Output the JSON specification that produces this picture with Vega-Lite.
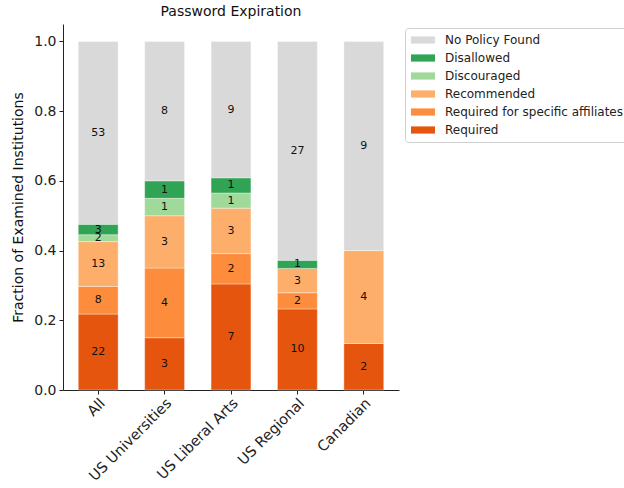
{
  "$schema": "https://vega.github.io/schema/vega-lite/v6.json",
  "autosize": "none",
  "width": 336,
  "height": 366,
  "padding": {"left": 63, "top": 24, "right": 225, "bottom": 98},
  "background": "white",
  "config": {
    "font": "DejaVu Sans",
    "view": {"stroke": null},
    "axis": {"labelFont": "DejaVu Sans", "titleFont": "DejaVu Sans", "labelColor": "#222", "titleColor": "#111", "domainColor": "#222", "tickColor": "#222", "grid": false}
  },
  "title": {"text": "Password Expiration", "fontSize": 14, "fontWeight": "normal", "font": "DejaVu Sans", "offset": 5, "color": "#111"},
  "data": {
    "values": [
      {"group": "All", "status": "Required", "level": 1, "count": 22},
      {"group": "All", "status": "Required for specific affiliates", "level": 2, "count": 8},
      {"group": "All", "status": "Recommended", "level": 3, "count": 13},
      {"group": "All", "status": "Discouraged", "level": 4, "count": 2},
      {"group": "All", "status": "Disallowed", "level": 5, "count": 3},
      {"group": "All", "status": "No Policy Found", "level": 6, "count": 53},
      {"group": "US Universities", "status": "Required", "level": 1, "count": 3},
      {"group": "US Universities", "status": "Required for specific affiliates", "level": 2, "count": 4},
      {"group": "US Universities", "status": "Recommended", "level": 3, "count": 3},
      {"group": "US Universities", "status": "Discouraged", "level": 4, "count": 1},
      {"group": "US Universities", "status": "Disallowed", "level": 5, "count": 1},
      {"group": "US Universities", "status": "No Policy Found", "level": 6, "count": 8},
      {"group": "US Liberal Arts", "status": "Required", "level": 1, "count": 7},
      {"group": "US Liberal Arts", "status": "Required for specific affiliates", "level": 2, "count": 2},
      {"group": "US Liberal Arts", "status": "Recommended", "level": 3, "count": 3},
      {"group": "US Liberal Arts", "status": "Discouraged", "level": 4, "count": 1},
      {"group": "US Liberal Arts", "status": "Disallowed", "level": 5, "count": 1},
      {"group": "US Liberal Arts", "status": "No Policy Found", "level": 6, "count": 9},
      {"group": "US Regional", "status": "Required", "level": 1, "count": 10},
      {"group": "US Regional", "status": "Required for specific affiliates", "level": 2, "count": 2},
      {"group": "US Regional", "status": "Recommended", "level": 3, "count": 3},
      {"group": "US Regional", "status": "Disallowed", "level": 5, "count": 1},
      {"group": "US Regional", "status": "No Policy Found", "level": 6, "count": 27},
      {"group": "Canadian", "status": "Required", "level": 1, "count": 2},
      {"group": "Canadian", "status": "Recommended", "level": 3, "count": 4},
      {"group": "Canadian", "status": "No Policy Found", "level": 6, "count": 9}
    ]
  },
  "transform": [
    {"stack": "count", "groupby": ["group"], "offset": "normalize", "sort": [{"field": "level", "order": "ascending"}], "as": ["y0", "y1"]},
    {"calculate": "(datum.y0 + datum.y1) / 2", "as": "ymid"}
  ],
  "encoding": {
    "x": {
      "field": "group", "type": "nominal",
      "sort": ["All", "US Universities", "US Liberal Arts", "US Regional", "Canadian"],
      "scale": {"paddingInner": 0.4, "paddingOuter": 0.23},
      "axis": {"title": null, "labelAngle": -45, "labelAlign": "right", "labelBaseline": "top", "labelFontSize": 14.5, "tickSize": 4, "labelPadding": 2, "domainWidth": 1}
    }
  },
  "layer": [
    {
      "mark": {"type": "bar", "stroke": "white", "strokeWidth": 0.6, "strokeOpacity": 0.6},
      "encoding": {
        "y": {"field": "y0", "type": "quantitative", "scale": {"domain": [0, 1.05], "nice": false, "zero": true},
          "axis": {"title": "Fraction of Examined Institutions", "titleFontSize": 14, "titleFontWeight": "normal", "labelFontSize": 14, "values": [0, 0.2, 0.4, 0.6, 0.8, 1.0], "format": ".1f", "tickSize": 4, "labelPadding": 3, "titlePadding": 8}},
        "y2": {"field": "y1"},
        "color": {
          "field": "status", "type": "nominal",
          "scale": {
            "domain": ["No Policy Found", "Disallowed", "Discouraged", "Recommended", "Required for specific affiliates", "Required"],
            "range": ["#d9d9d9", "#31a354", "#a1d99b", "#fdae6b", "#fd8d3c", "#e6550d"]
          },
          "legend": {
            "title": null, "orient": "none", "legendX": 342, "legendY": 4,
            "labelFontSize": 12, "labelColor": "#222", "labelLimit": 300, "labelOffset": 22,
            "symbolType": "M-1,-0.6H3V0.6H-1Z", "symbolSize": 144, "symbolStrokeWidth": 0,
            "rowPadding": 6, "padding": 6, "strokeColor": "#d0d0d0", "cornerRadius": 3, "fillColor": "white"
          }
        }
      }
    },
    {
      "mark": {"type": "text", "fontSize": 11, "color": "#111", "baseline": "middle"},
      "encoding": {
        "y": {"field": "ymid", "type": "quantitative"},
        "text": {"field": "count", "type": "quantitative"}
      }
    }
  ]
}
